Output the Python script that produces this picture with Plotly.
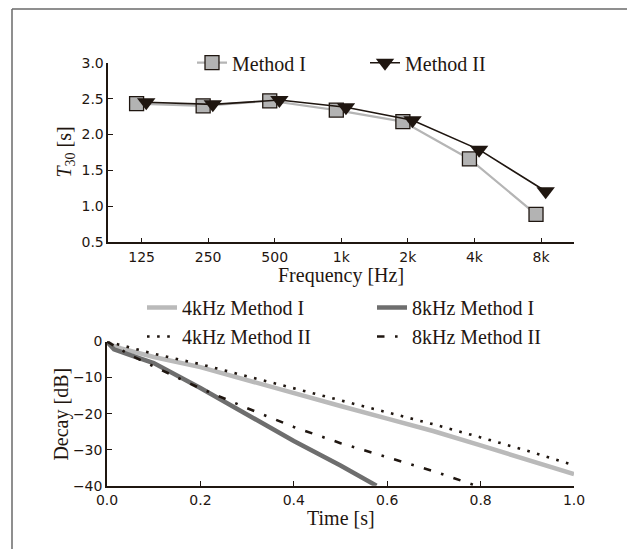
import numpy as np
import plotly.graph_objects as go

# ---------------- data ----------------
freq_labels = ["125", "250", "500", "1k", "2k", "4k", "8k"]
t30_method1 = [2.43, 2.40, 2.47, 2.34, 2.18, 1.66, 0.89]
t30_method2 = [2.45, 2.42, 2.48, 2.38, 2.20, 1.79, 1.21]

t_4k_m1 = [0.0, 0.01, 0.03, 0.1, 0.2, 0.3, 0.4, 0.5, 0.6, 0.7, 0.8, 0.9, 1.0]
db_4k_m1 = [0.0, -1.0, -1.9, -4.3, -7.1, -10.8, -14.5, -17.9, -21.4, -24.9, -28.8, -32.8, -36.8]

t_4k_m2 = [0.0, 0.05, 0.1, 0.2, 0.3, 0.4, 0.5, 0.6, 0.7, 0.8, 0.9, 1.0]
db_4k_m2 = [0.0, -1.8, -3.4, -6.3, -9.6, -13.0, -16.3, -19.6, -23.0, -26.6, -30.3, -34.3]

t_8k_m1 = [0.0, 0.015, 0.05, 0.1, 0.2, 0.3, 0.4, 0.5, 0.577]
db_8k_m1 = [0.0, -2.2, -3.8, -6.0, -12.9, -20.4, -27.6, -34.4, -40.0]

t_8k_m2 = [0.0, 0.05, 0.1, 0.2, 0.3, 0.4, 0.5, 0.6, 0.7, 0.79]
db_8k_m2 = [0.0, -3.8, -6.9, -13.0, -18.5, -23.7, -28.2, -32.2, -36.0, -40.0]

# ---------------- style ----------------
W, H = 627, 549
INK = "#1f1610"
SERIF = "Liberation Serif"
SANS = "DejaVu Sans"

def px_x(p):
    return p / W

def px_y(p):
    return 1 - p / H

idx = np.arange(len(freq_labels))

fig = go.Figure()

# top plot
fig.add_trace(go.Scatter(
    x=idx - 0.075, y=t30_method1, name="Method I", mode="lines+markers",
    line=dict(color="#b5b5b5", width=2.2),
    marker=dict(symbol="square", size=14, color="#b3b3b3", line=dict(color=INK, width=1.3)),
    xaxis="x", yaxis="y", legend="legend"))
fig.add_trace(go.Scatter(
    x=idx + 0.07, y=t30_method2, name="Method II", mode="lines+markers",
    line=dict(color=INK, width=1.6),
    marker=dict(symbol="triangle-down", size=16, color=INK, line=dict(color=INK, width=0)),
    xaxis="x", yaxis="y", legend="legend"))

# bottom plot
fig.add_trace(go.Scatter(
    x=t_4k_m1, y=db_4k_m1, name="4kHz Method I", mode="lines",
    line=dict(color="#bababa", width=4.5),
    xaxis="x2", yaxis="y2", legend="legend2"))
fig.add_trace(go.Scatter(
    x=t_8k_m1, y=db_8k_m1, name="8kHz Method I", mode="lines",
    line=dict(color="#6e6e6e", width=4.5),
    xaxis="x2", yaxis="y2", legend="legend2"))
fig.add_trace(go.Scatter(
    x=t_4k_m2, y=db_4k_m2, name="4kHz Method II", mode="lines",
    line=dict(color=INK, width=2.6, dash="2.6px,7.5px"),
    xaxis="x2", yaxis="y2", legend="legend2"))
fig.add_trace(go.Scatter(
    x=t_8k_m2, y=db_8k_m2, name="8kHz Method II", mode="lines",
    line=dict(color=INK, width=2.6, dash="7.5px,10.5px,2.6px,10.5px"),
    xaxis="x2", yaxis="y2", legend="legend2"))

axis_common = dict(
    showline=True, linecolor=INK, linewidth=1.5, ticks="inside", ticklen=5,
    tickwidth=1.3, tickcolor=INK, showgrid=False, zeroline=False, mirror=False,
    automargin=False,
    tickfont=dict(family=SANS, size=14, color=INK),
)

fig.update_layout(
    template="none",
    width=W, height=H,
    margin=dict(l=0, r=0, t=0, b=0, pad=0, autoexpand=False),
    paper_bgcolor="white", plot_bgcolor="white",
    xaxis=dict(axis_common, domain=[px_x(108.3), px_x(574.3)], range=[-0.5, 6.5],
               tickvals=list(idx), ticktext=freq_labels, anchor="y",
               ticklabelstandoff=1),
    yaxis=dict(axis_common, domain=[px_y(242.3), px_y(62.7)], range=[0.5, 3.0],
               tickvals=[0.5, 1.0, 1.5, 2.0, 2.5, 3.0], ticktext=["0.5", "1.0", "1.5", "2.0", "2.5", "3.0"],
               anchor="x", ticklabelstandoff=0),
    xaxis2=dict(axis_common, domain=[px_x(107), px_x(574)], range=[0, 1.0],
                tickvals=[0, 0.2, 0.4, 0.6, 0.8, 1.0], ticktext=["0.0", "0.2", "0.4", "0.6", "0.8", "1.0"],
                anchor="y2", ticklabelstandoff=1),
    yaxis2=dict(axis_common, domain=[px_y(485.7), px_y(341.5)], range=[-40, 0],
                tickvals=[-40, -30, -20, -10, 0], ticktext=["\u221240", "\u221230", "\u221220", "\u221210", "0"],
                anchor="x2", ticklabelstandoff=0),
    legend=dict(orientation="h", x=px_x(192), xanchor="left", y=px_y(62.7), yanchor="middle",
                font=dict(family=SERIF, size=20, color=INK), bgcolor="rgba(0,0,0,0)",
                borderwidth=0,
                entrywidthmode="pixels", entrywidth=128, itemsizing="trace"),
    legend2=dict(orientation="h", x=px_x(142), xanchor="left", y=px_y(288), yanchor="top",
                 font=dict(family=SERIF, size=20, color=INK), bgcolor="rgba(0,0,0,0)",
                 borderwidth=0,
                 entrywidthmode="pixels", entrywidth=185, itemsizing="trace",
                 tracegroupgap=0),
    showlegend=True,
)

# axis titles
fig.add_annotation(text="Frequency [Hz]", x=px_x(341), y=px_y(275), xref="paper", yref="paper",
                   showarrow=False, font=dict(family=SERIF, size=20, color=INK),
                   xanchor="center", yanchor="middle")
fig.add_annotation(text="<i>T</i><sub>30</sub> [s]", x=px_x(65), y=px_y(152.5), xref="paper", yref="paper",
                   showarrow=False, textangle=-90, font=dict(family=SERIF, size=20, color=INK),
                   xanchor="center", yanchor="middle")
fig.add_annotation(text="Time [s]", x=px_x(340.5), y=px_y(518), xref="paper", yref="paper",
                   showarrow=False, font=dict(family=SERIF, size=20, color=INK),
                   xanchor="center", yanchor="middle")
fig.add_annotation(text="Decay [dB]", x=px_x(62), y=px_y(413.6), xref="paper", yref="paper",
                   showarrow=False, textangle=-90, font=dict(family=SERIF, size=20, color=INK),
                   xanchor="center", yanchor="middle")

# outer frame (top and left edges)
fig.add_shape(type="line", xref="paper", yref="paper", x0=px_x(12), x1=1.0, y0=px_y(9), y1=px_y(9),
              line=dict(color="#6a6a6a", width=1.5))
fig.add_shape(type="line", xref="paper", yref="paper", x0=px_x(12), x1=px_x(12), y0=px_y(9), y1=0,
              line=dict(color="#6a6a6a", width=1.5))

fig.write_html("out.html", config={"displayModeBar": False},
               post_script="document.body.style.margin='0';document.body.style.overflow='hidden';")
